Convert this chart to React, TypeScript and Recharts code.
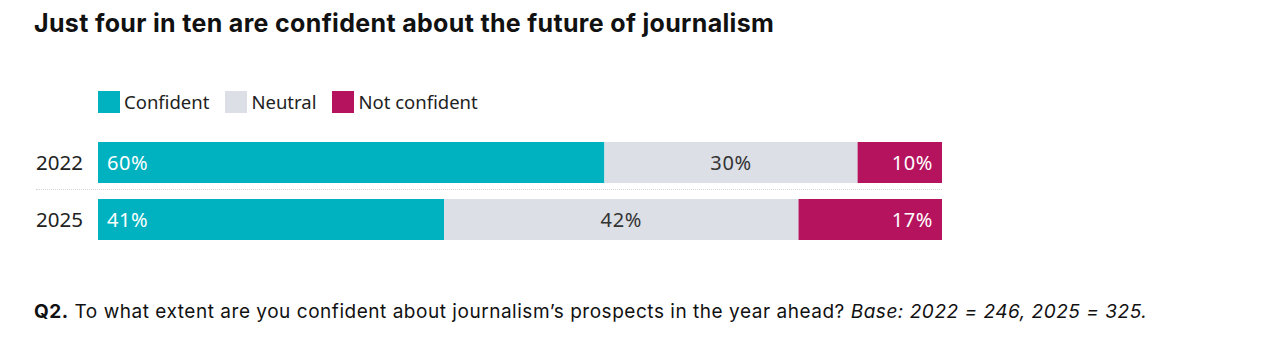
import { Bar, BarChart, LabelList, XAxis, YAxis } from "recharts";

// Survey years and share of respondents (%) per answer
const years = ["2022", "2025"];
const confident = [60, 41];
const neutral = [30, 42];
const notConfident = [10, 17];

const COLORS = {
  confident: "#00B1BF",
  neutral: "#DCDFE5",
  notConfident: "#B5135E",
};

const legendItems = [
  { label: "Confident", color: COLORS.confident },
  { label: "Neutral", color: COLORS.neutral },
  { label: "Not confident", color: COLORS.notConfident },
];

const data = years.map((year, i) => ({
  year,
  confident: confident[i],
  neutral: neutral[i],
  notConfident: notConfident[i],
}));

const labelFont = "'Noto Sans', 'Open Sans', sans-serif";
const pct = (v: unknown) => `${v}%`;
const barLabel = { fontSize: 20, fontFamily: labelFont, letterSpacing: 0.6 };

export default function App() {
  return (
    <div
      style={{
        position: "absolute",
        left: 0,
        top: 0,
        width: 1274,
        height: 350,
        background: "#fff",
        fontFamily: "Inter, Roboto, sans-serif",
        color: "#111",
      }}
    >
      <div
        style={{
          position: "absolute",
          left: 34,
          top: 8,
          fontSize: 25,
          fontWeight: 700,
          letterSpacing: 0.33,
          whiteSpace: "nowrap",
        }}
      >
        Just four in ten are confident about the future of journalism
      </div>

      <div
        style={{
          position: "absolute",
          left: 98,
          top: 89,
          display: "flex",
          alignItems: "center",
          fontFamily: labelFont,
          fontSize: 18.5,
          color: "#222",
        }}
      >
        {legendItems.map((item) => (
          <div key={item.label} style={{ display: "flex", alignItems: "center", marginRight: 16 }}>
            <span style={{ width: 22, height: 22, background: item.color, marginRight: 4 }} />
            <span>{item.label}</span>
          </div>
        ))}
      </div>

      {/* dotted separator between the two rows */}
      <div
        style={{
          position: "absolute",
          left: 36,
          top: 189,
          width: 906,
          borderTop: "1px dotted #d4d4d4",
        }}
      />

      <div style={{ position: "absolute", left: 0, top: 124 }}>
        <BarChart
          width={960}
          height={134}
          data={data}
          layout="vertical"
          margin={{ top: 10, right: 18, bottom: 10, left: 0 }}
          barSize={41}
        >
          <XAxis type="number" domain={[0, 100]} hide />
          <YAxis
            type="category"
            dataKey="year"
            width={98}
            axisLine={false}
            tickLine={false}
            tickSize={0}
            tickMargin={15}
            tick={{ fill: "#222", fontSize: 20.5, fontFamily: labelFont }}
          />
          <Bar dataKey="confident" stackId="a" fill={COLORS.confident} isAnimationActive={false}>
            <LabelList
              dataKey="confident"
              position="insideLeft"
              offset={9}
              formatter={pct}
              style={{ ...barLabel, fill: "#fff" }}
            />
          </Bar>
          <Bar dataKey="neutral" stackId="a" fill={COLORS.neutral} isAnimationActive={false}>
            <LabelList
              dataKey="neutral"
              position="center"
              formatter={pct}
              style={{ ...barLabel, fill: "#333" }}
            />
          </Bar>
          <Bar dataKey="notConfident" stackId="a" fill={COLORS.notConfident} isAnimationActive={false}>
            <LabelList
              dataKey="notConfident"
              position="insideRight"
              offset={9}
              formatter={pct}
              style={{ ...barLabel, fill: "#fff" }}
            />
          </Bar>
        </BarChart>
      </div>

      <div
        style={{
          position: "absolute",
          left: 34,
          top: 300,
          fontSize: 19,
          letterSpacing: 0.53,
          whiteSpace: "nowrap",
        }}
      >
        <b>Q2.</b> To what extent are you confident about journalism’s prospects in the year ahead?{" "}
        <i>Base: 2022 = 246, 2025 = 325.</i>
      </div>
    </div>
  );
}
